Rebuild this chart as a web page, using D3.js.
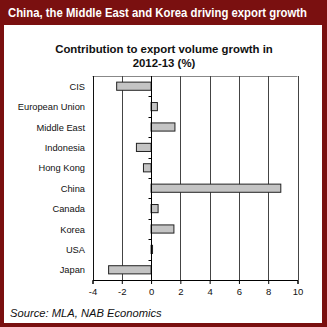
<!DOCTYPE html>
<html><head><meta charset="utf-8">
<script src="https://cdn.jsdelivr.net/npm/d3@7"></script>
<style>body{margin:0;background:#fff;}svg{display:block;font-family:"Liberation Sans",Arial,sans-serif;}</style>
</head><body>
<script>
const categories = ["CIS","European Union","Middle East","Indonesia","Hong Kong","China","Canada","Korea","USA","Japan"];
const values = [-2.35, 0.43, 1.63, -1.0, -0.52, 8.86, 0.48, 1.56, 0.1, -2.9];
const xTicks = [-4,-2,0,2,4,6,8,10];
const headerTitle = "China, the Middle East and Korea driving export growth";
const chartTitle = ["Contribution to export volume growth in","2012-13 (%)"];
const sourceText = "Source: MLA, NAB Economics";

const W=327,H=327;
const svg=d3.select("body").append("svg").attr("width",W).attr("height",H);
// frame
svg.append("rect").attr("x",0).attr("y",0).attr("width",W).attr("height",H).attr("fill","#7a1010");
svg.append("rect").attr("x",4).attr("y",25).attr("width",318).attr("height",298).attr("fill","#fff");
svg.append("text").attr("x",8).attr("y",16.5).attr("fill","#fff").attr("font-weight","bold").attr("font-size",12)
 .attr("textLength",299).attr("lengthAdjust","spacingAndGlyphs").text(headerTitle);

const m={l:92.5,r:297.5,t:76,b:280};
const x=d3.scaleLinear().domain([-4,10]).range([m.l,m.r]);
const y=d3.scaleBand().domain(categories).range([m.t,m.b]).paddingInner(0.6).paddingOuter(0.3);
const yb=d3.scaleBand().domain(categories).range([m.t,m.b]);

svg.append("g").selectAll("text").data(chartTitle).join("text")
 .attr("x",164).attr("y",(d,i)=>53+i*14).attr("text-anchor","middle")
 .attr("font-weight","bold").attr("font-size",11.4).attr("fill","#111").text(d=>d);

// top border
svg.append("line").attr("x1",m.l).attr("x2",m.r).attr("y1",m.t+0.5).attr("y2",m.t+0.5).attr("stroke","#888");
// gridlines
svg.append("g").selectAll("line").data(xTicks.filter(d=>d!==0)).join("line")
 .attr("x1",d=>Math.round(x(d))+0.5).attr("x2",d=>Math.round(x(d))+0.5)
 .attr("y1",m.t).attr("y2",m.b).attr("stroke",d=>d===-4?"#111":"#444").attr("stroke-width",1);

// bars
svg.append("g").selectAll("rect").data(categories).join("rect")
 .attr("x",(d,i)=>Math.min(x(0),x(values[i])))
 .attr("y",d=>y(d))
 .attr("width",(d,i)=>Math.abs(x(values[i])-x(0)))
 .attr("height",y.bandwidth())
 .attr("fill","#c4c4c4").attr("stroke","#222").attr("stroke-width",1);

// zero axis with minor ticks
const x0=Math.round(x(0))+0.5;
svg.append("line").attr("x1",x0).attr("x2",x0).attr("y1",m.t).attr("y2",m.b).attr("stroke","#000");
svg.append("g").selectAll("line").data(categories.slice(1)).join("line")
 .attr("x1",x0-3).attr("x2",x0).attr("y1",d=>Math.round(yb(d))+0.5).attr("y2",d=>Math.round(yb(d))+0.5).attr("stroke","#000");

// x axis
const gx=svg.append("g").attr("transform",`translate(0,${m.b})`)
 .call(d3.axisBottom(x).tickValues(xTicks).tickSize(4).tickPadding(4).tickFormat(d=>String(d)));
gx.select(".domain").attr("stroke","#000");
gx.selectAll("text").attr("font-size",9.5).attr("font-family","Liberation Sans, Arial, sans-serif").attr("fill","#111");

// y labels
svg.append("g").selectAll("text").data(categories).join("text")
 .attr("x",85).attr("y",d=>yb(d)+yb.bandwidth()/2+3.5).attr("text-anchor","end")
 .attr("font-size",9.3).attr("fill","#111").text(d=>d);

svg.append("text").attr("x",10).attr("y",317).attr("font-style","italic").attr("font-size",11.2).attr("fill","#111").text(sourceText);
</script>
</body></html>
